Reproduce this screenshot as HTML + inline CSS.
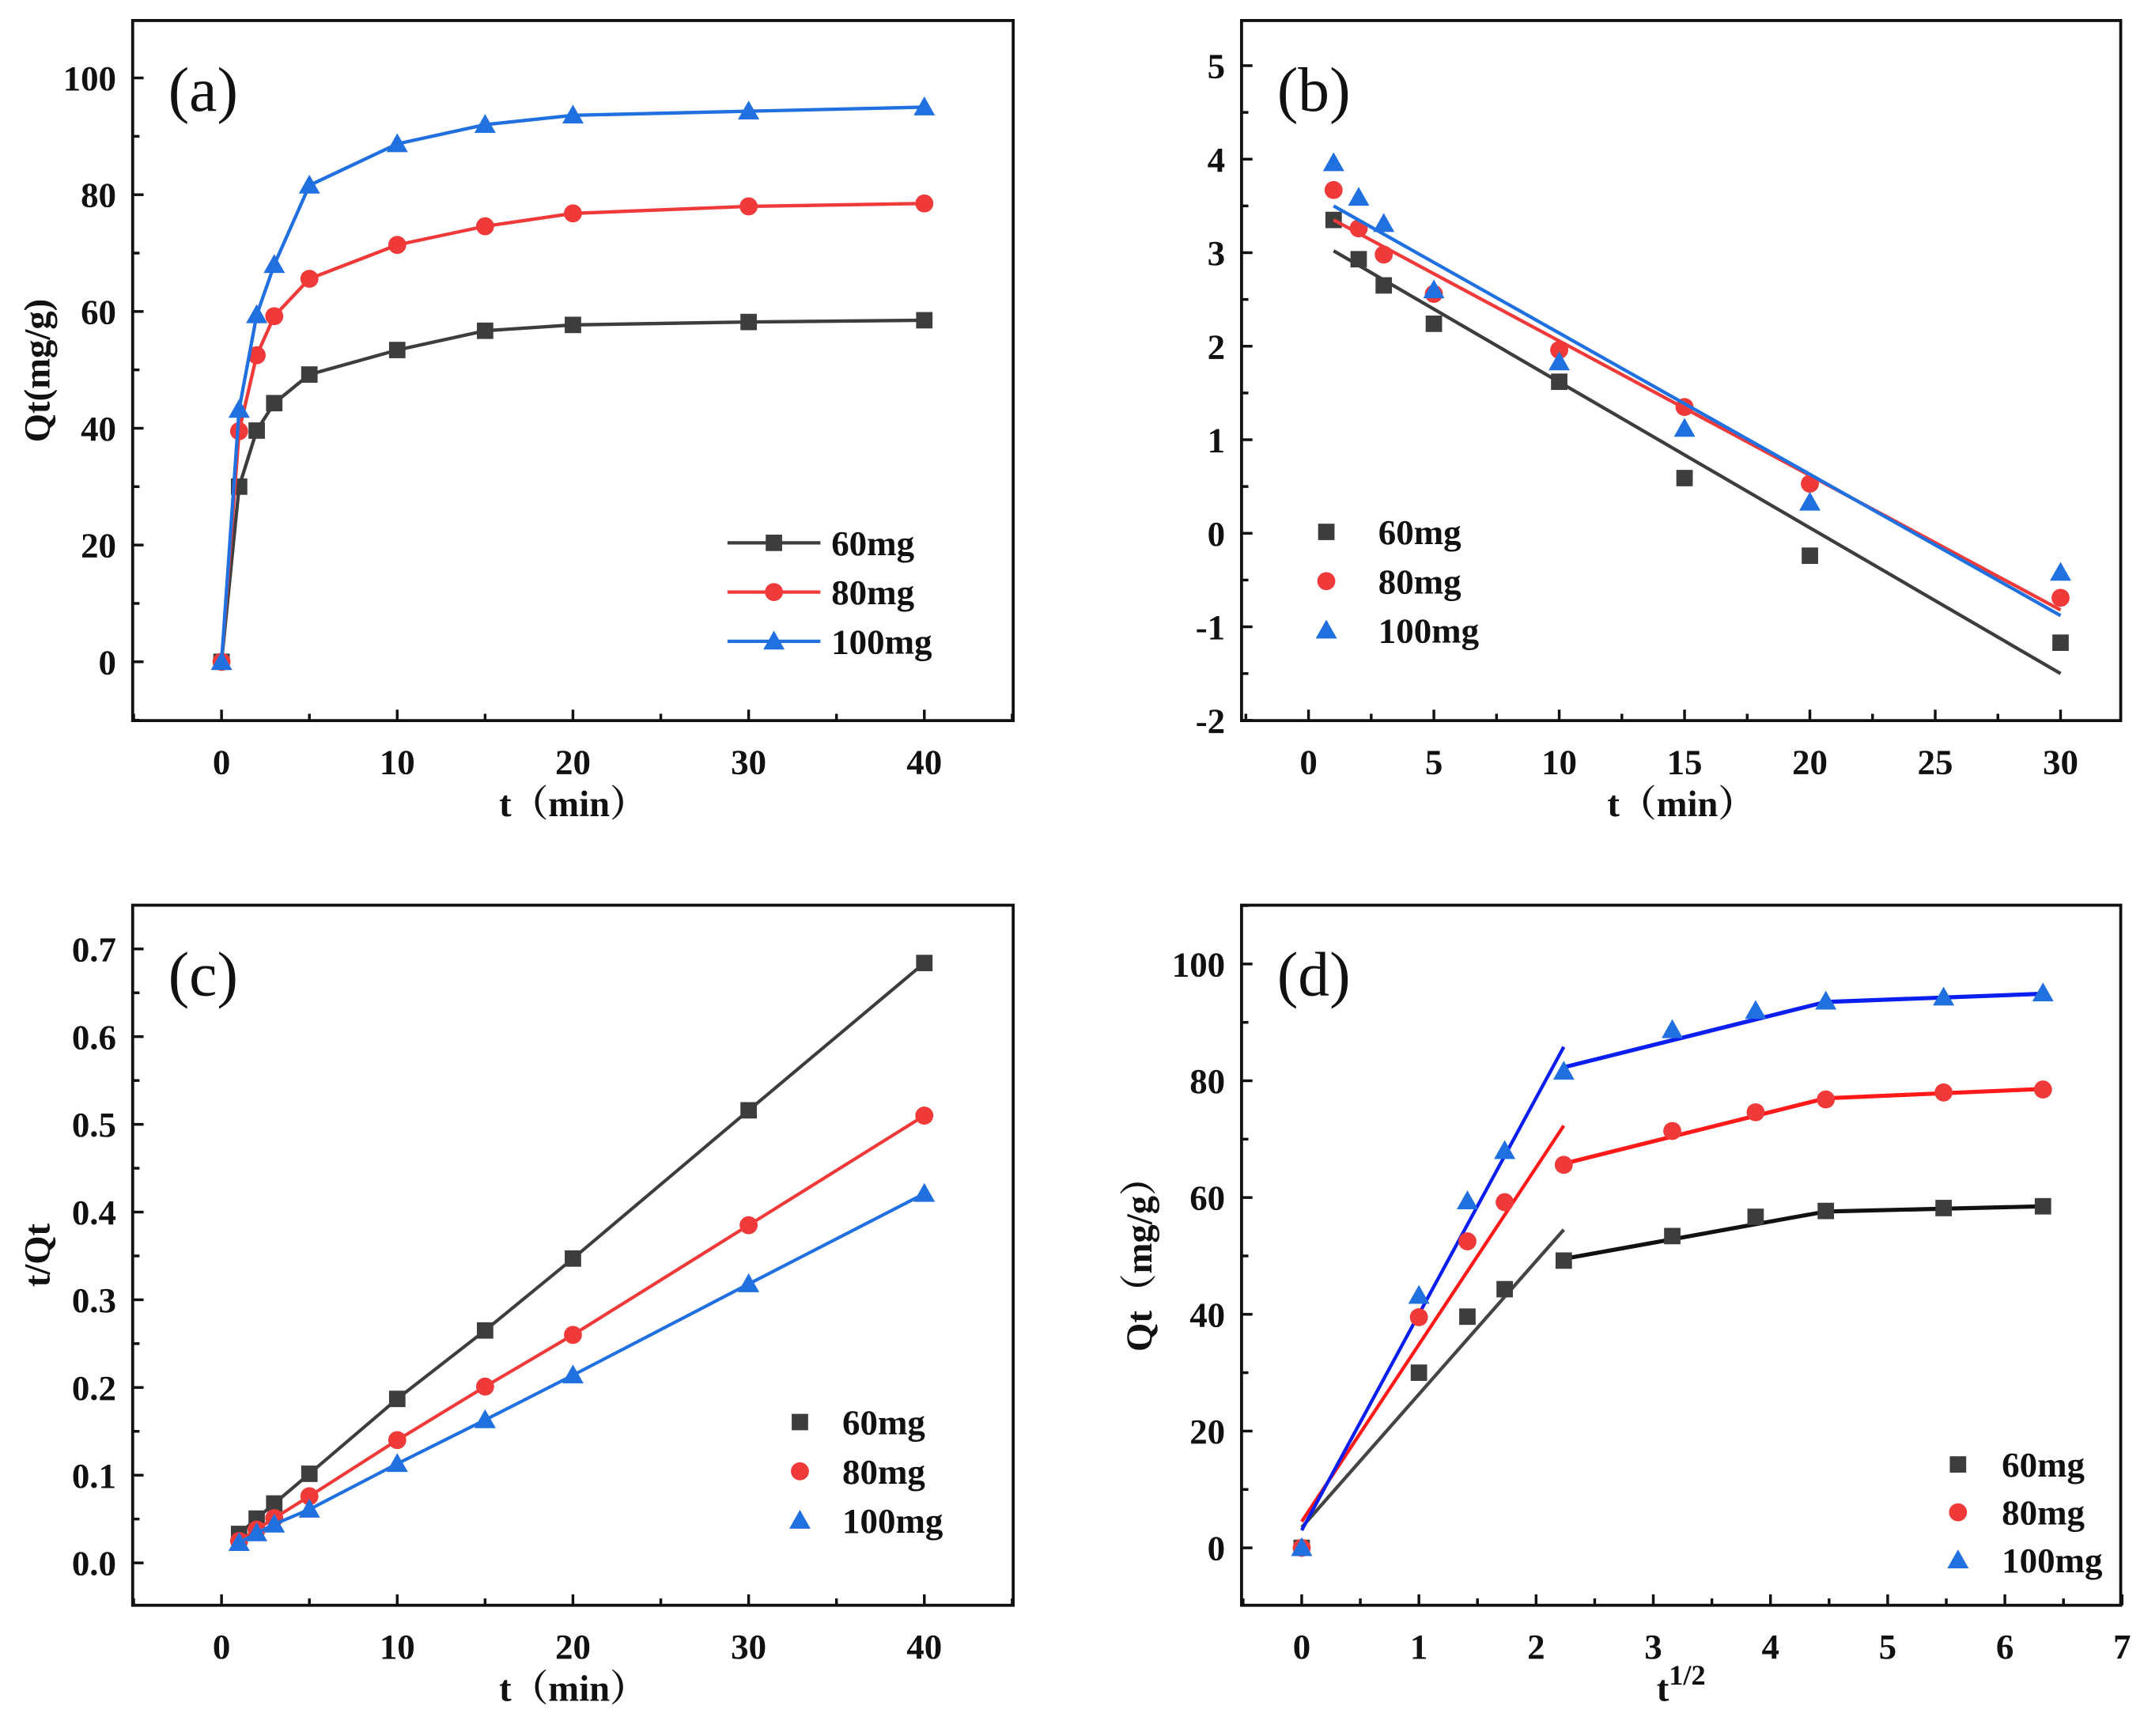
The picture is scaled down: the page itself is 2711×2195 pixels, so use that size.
<!DOCTYPE html>
<html><head><meta charset="utf-8"><style>
html,body{margin:0;padding:0;background:#fff;}
svg{display:block;}
text{font-family:"Liberation Serif","Noto Serif CJK SC",serif;font-weight:bold;fill:#111;}
</style></head><body>
<svg id="fig" width="2711" height="2195" viewBox="0 0 1568 1269.6" xmlns="http://www.w3.org/2000/svg"></svg>
<script>
// ---- data ----
const tA = [0,1,2,3,5,10,15,20,30,40];
const qA60 = [0,30,39.6,44.3,49.2,53.4,56.7,57.7,58.2,58.5];
const qA80 = [0,39.5,52.5,59.2,65.6,71.4,74.6,76.8,78,78.5];
const qA100 = [0,43.2,59.4,68,81.6,88.7,92,93.6,94.3,95];

const tB = [1,2,3,5,10,15,20,30];
const vB60 = [3.35,2.93,2.65,2.24,1.62,0.59,-0.24,-1.17];
const vB80 = [3.67,3.26,2.98,2.56,1.96,1.35,0.53,-0.69];
const vB100 = [3.96,3.59,3.31,2.6,1.83,1.12,0.33,-0.42];
const fitB60 = [3.02,-1.5];
const fitB80 = [3.35,-0.82];
const fitB100 = [3.5,-0.88];
const fitBT = [1,30];

const tC = [1,2,3,5,10,15,20,30,40];
const vC60 = [0.033,0.0505,0.0677,0.1016,0.187,0.265,0.347,0.516,0.684];
const vC80 = [0.025,0.038,0.051,0.076,0.140,0.201,0.260,0.385,0.510];
const vC100 = [0.023,0.034,0.044,0.061,0.113,0.163,0.214,0.318,0.421];

const xD = [0,1,1.414,1.732,2.236,3.162,3.873,4.472,5.477,6.325];
const fitD1X = [0,2.236];
const fitD60a = [3.5,54.5];
const fitD80a = [4.5,72.3];
const fitD100a = [3,85.8];
const fitD2X = [2.236,4.472,6.325];
const fitD60b = [49.5,57.6,58.5];
const fitD80b = [65.8,77,78.6];
const fitD100b = [82.3,93.5,94.9];

const ticksA_X = [0,10,20,30,40];
const ticksA_Y = [0,20,40,60,80,100];
const ticksB_X = [0,5,10,15,20,25,30];
const ticksB_Y = [-2,-1,0,1,2,3,4,5];
const ticksC_Y = [0,0.1,0.2,0.3,0.4,0.5,0.6,0.7];
const ticksD_X = [0,1,2,3,4,5,6,7];
const legendLabels = ['60mg','80mg','100mg'];

const NS='http://www.w3.org/2000/svg';
const svg=document.getElementById('fig');
function el(tag,attrs,parent,txt){const e=document.createElementNS(NS,tag);for(const k in attrs)e.setAttribute(k,attrs[k]);if(txt!==undefined)e.textContent=txt;(parent||svg).appendChild(e);return e;}

const C={k:'#3d3d3d',r:'#f03a3a',b:'#2070e0'};

function marker(g,type,x,y,color,s){
  let m;
  if(type==='sq') m=el('rect',{x:x-s,y:y-s,width:2*s,height:2*s,fill:color},g);
  else if(type==='ci') m=el('circle',{cx:x,cy:y,r:s*1.1,fill:color},g);
  else m=el('polygon',{points:`${x},${y-s*1.3} ${x-s*1.3},${y+s} ${x+s*1.3},${y+s}`,fill:color},g);
  
  
  return m;
}

function panel(cfg){
  const g=el('g',{});
  
  
  const sx=v=>cfg.x0px+(v-cfg.x0)*(cfg.x1px-cfg.x0px)/(cfg.x1-cfg.x0);
  const sy=v=>cfg.y0px+(v-cfg.y0)*(cfg.y1px-cfg.y0px)/(cfg.y1-cfg.y0);
  const f=cfg.frame;
  const fr=el('rect',{x:f[0],y:f[1],width:f[2]-f[0],height:f[3]-f[1],fill:'none',stroke:'#111','stroke-width':2.2},g);
  
  
  const xs=cfg.xticks, dx=xs[1]-xs[0];
  xs.forEach((v,i)=>{
    const X=sx(v);
    el('line',{x1:X,y1:f[3],x2:X,y2:f[3]-8,stroke:'#111','stroke-width':2},g);
    if(i<xs.length-1||cfg.lastMinor){const m=sx(v+dx/2); if(m<f[2]) el('line',{x1:m,y1:f[3],x2:m,y2:f[3]-5,stroke:'#111','stroke-width':2},g);}
    const t=el('text',{x:X,y:f[3]+39,'text-anchor':'middle','font-size':26},g,cfg.xfmt?cfg.xfmt(v):String(v));
    
    
  });
  const m0=sx(xs[0]-dx/2); if(m0>f[0]) el('line',{x1:m0,y1:f[3],x2:m0,y2:f[3]-5,stroke:'#111','stroke-width':2},g);
  const ys=cfg.yticks, dy=ys[1]-ys[0];
  ys.forEach((v,i)=>{
    const Y=sy(v);
    el('line',{x1:f[0],y1:Y,x2:f[0]+8,y2:Y,stroke:'#111','stroke-width':2},g);
    const m=sy(v+dy/2); if(m>f[1]) el('line',{x1:f[0],y1:m,x2:f[0]+5,y2:m,stroke:'#111','stroke-width':2},g);
    const t=el('text',{x:f[0]-12,y:Y+9,'text-anchor':'end','font-size':26},g,cfg.yfmt?cfg.yfmt(v):String(v));
    
    
  });
  const mb=sy(ys[0]-dy/2); if(mb<f[3]) el('line',{x1:f[0],y1:mb,x2:f[0]+5,y2:mb,stroke:'#111','stroke-width':2},g);
  const pl=el('text',{x:f[0]+26,y:f[1]+66,'font-size':46,style:'font-weight:normal'},g,cfg.label);
  
  
  const xt=el('text',{x:(f[0]+f[2])/2,y:f[3]+70,'text-anchor':'middle','font-size':27},g);
  
  
  if(cfg.xsup){xt.textContent='t';el('tspan',{dy:-12,'font-size':21},xt,'1/2');}
  else xt.textContent=cfg.xtitle;
  const yt=el('text',{x:0,y:0,'text-anchor':'middle','font-size':27,transform:`translate(${cfg.ytx},${(f[1]+f[3])/2}) rotate(-90)`},g,cfg.ytitle);
  
  
  cfg.draw(g,sx,sy);
  const L=cfg.legend;
  const types=['sq','ci','tr'], cols=[C.k,C.r,C.b];
  legendLabels.forEach((lab,i)=>{
    const y=L.y+i*L.dy;
    const lg=el('g',{},g);
    
    
    if(L.line) el('line',{x1:L.mx-34,y1:y,x2:L.mx+34,y2:y,stroke:cols[i],'stroke-width':2.5},lg);
    marker(lg,types[i],L.mx,y,cols[i],6);
    el('text',{x:L.tx,y:y+9,'font-size':26},lg,lab);
  });
}
function poly(g,xs,ys,sx,sy,color,w,name){
  const p=el('polyline',{points:xs.map((x,i)=>sx(x)+','+sy(ys[i])).join(' '),fill:'none',stroke:color,'stroke-width':w||2.5,'stroke-linejoin':'round'},g);
  
  
}
function pts(g,xs,ys,sx,sy,type,color){xs.forEach((x,i)=>marker(g,type,sx(x),sy(ys[i]),color,6));}

panel({name:'panel-a',label:'(a)',frame:[97,15,741,527],x0:0,x1:40,x0px:162,x1px:676,y0:0,y1:100,y0px:484,y1px:57,
 xticks:ticksA_X,yticks:ticksA_Y,xtitle:'t（min）',ytitle:'Qt(mg/g)',ytx:36,lastMinor:true,
 legend:{y:397,dy:36,mx:566,tx:608,line:true},
 draw:(g,sx,sy)=>{
  [[qA60,'sq',C.k],[qA80,'ci',C.r],[qA100,'tr',C.b]].forEach(([d,t,c])=>{poly(g,tA,d,sx,sy,c);pts(g,tA,d,sx,sy,t,c);});
 }});
panel({name:'panel-b',label:'(b)',frame:[908,15,1551,527],x0:0,x1:30,x0px:957,x1px:1507,y0:0,y1:5,y0px:390,y1px:48,
 xticks:ticksB_X,yticks:ticksB_Y,xtitle:'t（min）',ytitle:'',ytx:850,lastMinor:false,
 legend:{y:389,dy:36,mx:970,tx:1008,line:false},
 draw:(g,sx,sy)=>{
  [[vB60,fitB60,'sq',C.k],[vB80,fitB80,'ci',C.r],[vB100,fitB100,'tr',C.b]].forEach(([d,fit,t,c])=>{poly(g,fitBT,fit,sx,sy,c,2.5,'fit-line');pts(g,tB,d,sx,sy,t,c);});
 }});
panel({name:'panel-c',label:'(c)',frame:[97,662,741,1174],x0:0,x1:40,x0px:162,x1px:676,y0:0,y1:0.7,y0px:1143,y1px:694,
 xticks:ticksA_X,yticks:ticksC_Y,yfmt:v=>v.toFixed(1),xtitle:'t（min）',ytitle:'t/Qt',ytx:36,lastMinor:true,
 legend:{y:1040,dy:36,mx:585,tx:616,line:false},
 draw:(g,sx,sy)=>{
  [[vC60,'sq',C.k],[vC80,'ci',C.r],[vC100,'tr',C.b]].forEach(([d,t,c])=>{poly(g,tC,d,sx,sy,c,2.4,'fit-line');pts(g,tC,d,sx,sy,t,c);});
 }});
panel({name:'panel-d',label:'(d)',frame:[908,662,1551,1174],x0:0,x1:7,x0px:952,x1px:1552,y0:0,y1:100,y0px:1132,y1px:705,
 xticks:ticksD_X,yticks:ticksA_Y,xsup:true,ytitle:'Qt（mg/g）',ytx:842,lastMinor:false,
 legend:{y:1071,dy:35,mx:1432,tx:1464,line:false},
 draw:(g,sx,sy)=>{
  const lc={k:'#111',r:'#ff1a1a',b:'#0a1ef0'};
  poly(g,fitD1X,fitD60a,sx,sy,'#444',2.5,'fit-line');
  poly(g,fitD1X,fitD80a,sx,sy,lc.r,2.5,'fit-line');
  poly(g,fitD1X,fitD100a,sx,sy,lc.b,2.5,'fit-line');
  poly(g,fitD2X,fitD60b,sx,sy,lc.k,3,'fit-line');
  poly(g,fitD2X,fitD80b,sx,sy,lc.r,3,'fit-line');
  poly(g,fitD2X,fitD100b,sx,sy,lc.b,3,'fit-line');
  pts(g,xD,qA60,sx,sy,'sq',C.k);
  pts(g,xD,qA80,sx,sy,'ci',C.r);
  pts(g,xD,qA100,sx,sy,'tr',C.b);
 }});
</script>
</body></html>
